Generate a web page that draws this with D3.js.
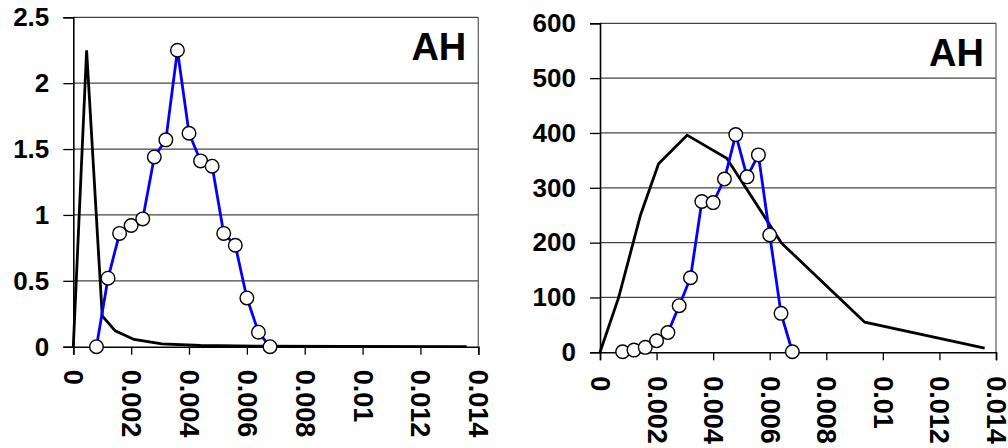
<!DOCTYPE html>
<html>
<head>
<meta charset="utf-8">
<script src="https://cdn.jsdelivr.net/npm/d3@7"></script>
<style>
  body { margin: 0; background: #fff; }
  svg { display: block; font-family: "Liberation Sans", Arial, sans-serif; font-weight: bold; }
</style>
</head>
<body>
<svg id="chart" width="1008" height="448"></svg>
<script>
// bin centres shared by the two measured (blue) series
var binX = [0.0008, 0.0012, 0.0016, 0.002, 0.0024, 0.0028, 0.0032, 0.0036,
            0.004, 0.0044, 0.0048, 0.0052, 0.0056, 0.006, 0.0064, 0.0068];

var leftBlue = [0, 0.52, 0.86, 0.92, 0.97, 1.44, 1.57, 2.25,
                1.62, 1.41, 1.37, 0.86, 0.77, 0.37, 0.11, 0];
var leftBlackX = [0, 0.00046, 0.001, 0.00145, 0.0021, 0.00306, 0.0044, 0.0064, 0.0094, 0.0136];
var leftBlackY = [0, 2.25, 0.233, 0.12, 0.055, 0.022, 0.009, 0.004, 0.002, 0.001];

var rightBlue = [1, 4, 9, 21, 36, 85, 136, 275, 273, 316, 397, 320, 360, 214, 71, 1];
var rightBlackX = [0, 0.00066, 0.00143, 0.00207, 0.00308, 0.00448, 0.00642, 0.00936, 0.0136];
var rightBlackY = [0, 100, 250, 344, 396, 354, 199, 55, 7.5];

var xTicks = [0, 0.002, 0.004, 0.006, 0.008, 0.01, 0.012, 0.014];
var leftYTicks = [0, 0.5, 1, 1.5, 2, 2.5];
var rightYTicks = [0, 100, 200, 300, 400, 500, 600];
var panelLabel = "AH";

var svg = d3.select("#chart");

function drawPanel(box, yMax, yTicks, blue, blackX, blackY) {
    var x = d3.scaleLinear().domain([0, 0.014]).range([box.left, box.right]);
    var y = d3.scaleLinear().domain([0, yMax]).range([box.bottom, box.top]);
    var g = svg.append("g");

    // grid lines (including the top frame line)
    g.selectAll(".grid")
        .data(yTicks.filter(function(d) { return d > 0; }))
        .enter().append("line")
        .attr("x1", box.left).attr("x2", box.right)
        .attr("y1", function(d) { return y(d); })
        .attr("y2", function(d) { return y(d); })
        .style("stroke", "#444")
        .style("stroke-width", 1.3);

    // right frame line
    g.append("line")
        .attr("x1", box.right).attr("x2", box.right)
        .attr("y1", box.top).attr("y2", box.bottom)
        .style("stroke", "#666").style("stroke-width", 1.3);

    // y axis
    var yAxis = d3.axisLeft(y).tickValues(yTicks).tickSize(10).tickPadding(14)
        .tickFormat(function(d) { return d; });
    var ya = g.append("g").attr("transform", "translate(" + box.left + ",0)").call(yAxis);
    ya.select(".domain").style("stroke", "#000").style("stroke-width", 1.6);
    ya.selectAll(".tick line").style("stroke", "#000").style("stroke-width", 1.3);
    ya.selectAll("text").style("font-size", "26px").style("font-weight", "bold")
        .style("font-family", "'Liberation Sans', Arial, sans-serif").attr("fill", "#000");

    // x axis with rotated labels
    var xAxis = d3.axisBottom(x).tickValues(xTicks).tickSize(8)
        .tickFormat(function(d) { return d; });
    var xa = g.append("g").attr("transform", "translate(0," + box.bottom + ")").call(xAxis);
    xa.select(".domain").style("stroke", "#000").style("stroke-width", 1.6);
    xa.selectAll(".tick line").style("stroke", "#000").style("stroke-width", 1.3);
    xa.selectAll("text")
        .attr("y", 0).attr("x", 0).attr("dy", "0.35em")
        .attr("transform", "translate(0," + box.labelGap + ") rotate(90)")
        .style("text-anchor", "start")
        .style("font-size", "27px").style("font-weight", "bold")
        .style("font-family", "'Liberation Sans', Arial, sans-serif").attr("fill", "#000");

    // model curve
    var blackPts = blackX.map(function(d, i) { return [d, blackY[i]]; });
    g.append("path")
        .datum(blackPts)
        .attr("d", d3.line().x(function(d) { return x(d[0]); }).y(function(d) { return y(d[1]); }))
        .style("fill", "none").style("stroke", "#000").style("stroke-width", 2.8)
        .style("stroke-linejoin", "miter");

    // measured series
    var bluePts = binX.map(function(d, i) { return [d, blue[i]]; });
    g.append("path")
        .datum(bluePts)
        .attr("d", d3.line().x(function(d) { return x(d[0]); }).y(function(d) { return y(d[1]); }))
        .style("fill", "none").style("stroke", "#0000ff").style("stroke-width", 2.8);

    g.selectAll(".pt")
        .data(bluePts)
        .enter().append("circle")
        .attr("cx", function(d) { return x(d[0]); })
        .attr("cy", function(d) { return y(d[1]); })
        .attr("r", 6.8)
        .style("fill", "#fff").style("stroke", "#000").style("stroke-width", 1.4);

    // panel label
    g.append("text")
        .attr("x", box.right - 12)
        .attr("y", box.top + 43)
        .attr("text-anchor", "end")
        .style("font-size", "38px").style("font-weight", "bold")
        .text(panelLabel);
}

drawPanel({ left: 73.3, right: 478.3, top: 17.3, bottom: 346.7, labelGap: 23 },
          2.5, leftYTicks, leftBlue, leftBlackX, leftBlackY);
drawPanel({ left: 600, right: 996, top: 23.3, bottom: 352.3, labelGap: 24 },
          600, rightYTicks, rightBlue, rightBlackX, rightBlackY);
</script>
</body>
</html>
